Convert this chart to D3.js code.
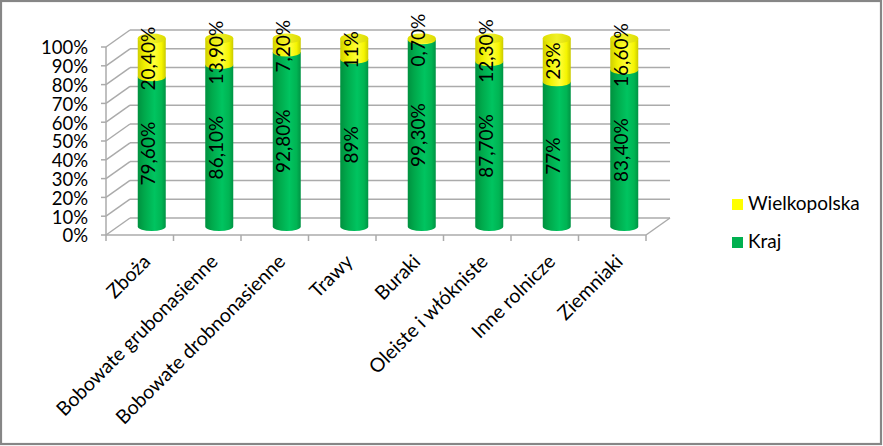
<!DOCTYPE html>
<html><head><meta charset="utf-8">
<script src="https://cdn.jsdelivr.net/npm/d3@7"></script>
<style>
html,body{margin:0;padding:0;background:#fff;}
svg{display:block;}
text{font-family:Lato, "Open Sans", sans-serif;fill:#000;}
</style></head>
<body>
<script>
const categories = ["Zboża","Bobowate grubonasienne","Bobowate drobnonasienne","Trawy","Buraki","Oleiste i włókniste","Inne rolnicze","Ziemniaki"];
const kraj = [79.6, 86.1, 92.8, 89, 99.3, 87.7, 77, 83.4];
const wielkopolska = [20.4, 13.9, 7.2, 11, 0.7, 12.3, 23, 16.6];
const yTicks = [0,10,20,30,40,50,60,70,80,90,100];
const seriesNames = ["Wielkopolska","Kraj"];

const W = 883, H = 446;
const svg = d3.select("body").append("svg").attr("width", W).attr("height", H);

const defs = svg.append("defs");
function grad(id, stops){
  const g = defs.append("linearGradient").attr("id", id).attr("x1","0").attr("x2","1").attr("y1","0").attr("y2","0");
  stops.forEach(s=>g.append("stop").attr("offset", s[0]).attr("stop-color", s[1]));
}
grad("gGreen", [["0%","#00913F"],["25%","#00AA4C"],["60%","#00C460"],["85%","#00B453"],["100%","#009344"]]);
grad("gYellow", [["0%","#CFCF00"],["25%","#F0F000"],["60%","#FFFF3A"],["85%","#F5F500"],["100%","#CACA00"]]);
grad("gYellowTop", [["0%","#DEDE00"],["50%","#F0F028"],["100%","#DCDC00"]]);

// frame
svg.append("rect").attr("x",1).attr("y",1).attr("width",W-3).attr("height",H-3)
  .attr("fill","none").attr("stroke","#868686").attr("stroke-width",2.2);

const x = d3.scaleBand().domain(categories).range([106, 646]).padding(0);
const y = d3.scaleLinear().domain([0,100]).range([235, 47]);
const dX = 24, dY = -17;
const gridColor = "#ABABAB";

const grid = svg.append("g");
yTicks.forEach(t=>{
  const yy = y(t);
  grid.append("line").attr("x1", x.range()[0]).attr("y1", yy).attr("x2", x.range()[0]+dX).attr("y2", yy+dY)
    .attr("stroke", gridColor).attr("stroke-width",1.5);
  grid.append("line").attr("x1", x.range()[0]+dX).attr("y1", yy+dY).attr("x2", x.range()[1]+dX).attr("y2", yy+dY)
    .attr("stroke", gridColor).attr("stroke-width",1.5);
  grid.append("line").attr("x1", x.range()[0]-5).attr("y1", yy).attr("x2", x.range()[0]).attr("y2", yy)
    .attr("stroke", gridColor).attr("stroke-width",1.5);
});
grid.append("line").attr("x1", x.range()[1]).attr("y1", y(0)).attr("x2", x.range()[1]+dX).attr("y2", y(0)+dY)
  .attr("stroke", gridColor).attr("stroke-width",1.5);
grid.append("line").attr("x1", x.range()[0]).attr("y1", y(0)).attr("x2", x.range()[0]).attr("y2", y(100))
  .attr("stroke", gridColor).attr("stroke-width",1.5);
grid.append("line").attr("x1", x.range()[0]).attr("y1", y(0)).attr("x2", x.range()[1]).attr("y2", y(0))
  .attr("stroke", gridColor).attr("stroke-width",1.5);
const tickXs = categories.map(c=>x(c)).concat([x.range()[1]]);
tickXs.forEach(tx=>{
  grid.append("line").attr("x1", tx).attr("y1", y(0)).attr("x2", tx).attr("y2", y(0)+6)
    .attr("stroke", gridColor).attr("stroke-width",1.5);
});

// y tick labels
svg.append("g").selectAll("text").data(yTicks).join("text")
  .attr("x", 88).attr("y", d=>y(d)+1).attr("dy","0.35em").attr("text-anchor","end")
  .style("font-size","18.5px").text(d=>d+"%");

// x labels
svg.append("g").selectAll("text").data(categories).join("text")
  .attr("transform", d=>`translate(${x(d)+x.bandwidth()/2+7},${258}) rotate(-45)`)
  .attr("dy","0.35em").attr("text-anchor","end").style("font-size","19.5px").text(d=>d);

// cylinders
const rx = 14, ry = 4.5;
function segPath(cx, y0, y1){
  return `M${cx-rx},${y1} L${cx-rx},${y0} A${rx},${ry} 0 0 0 ${cx+rx},${y0} L${cx+rx},${y1} Z`;
}
const fmt = v => (Number.isInteger(v) ? String(v) : v.toFixed(2).replace(".", ",")) + "%";
const bars = svg.append("g");
categories.forEach((c,i)=>{
  const cx = x(c) + x.bandwidth()/2 + dX/2;
  const yb = y(0) + dY/2, ym = y(kraj[i]) + dY/2, yt = y(kraj[i]+wielkopolska[i]) + dY/2;
  bars.append("path").attr("d", segPath(cx, yb, ym)).attr("fill","url(#gGreen)");
  bars.append("path").attr("d", segPath(cx, ym, yt)).attr("fill","url(#gYellow)");
  bars.append("ellipse").attr("cx",cx).attr("cy",yt).attr("rx",rx).attr("ry",ry+0.5).attr("fill","url(#gYellowTop)");
  bars.append("text").attr("transform",`translate(${cx-3},${(yb+ym)/2+2}) rotate(-90)`)
    .attr("dy","0.35em").attr("text-anchor","middle").style("font-size","19px").text(fmt(kraj[i]));
  bars.append("text").attr("transform",`translate(${cx-3},${(ym+yt)/2+1}) rotate(-90)`)
    .attr("dy","0.35em").attr("text-anchor","middle").style("font-size","19px").text(fmt(wielkopolska[i]));
});

// legend
const legColors = {"Wielkopolska":"#FFFF00","Kraj":"#00B050"};
const leg = svg.append("g");
seriesNames.forEach((s,i)=>{
  const ly = 199 + i*38;
  leg.append("rect").attr("x",732).attr("y",ly).attr("width",11).attr("height",11).attr("fill",legColors[s]);
  leg.append("text").attr("x",748).attr("y",ly+11).style("font-size","19px").text(s);
});
</script>
</body></html>
